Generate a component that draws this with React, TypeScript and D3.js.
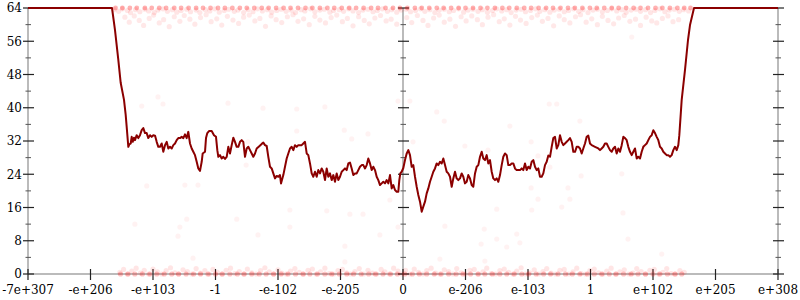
import React from "react";
import * as d3 from "d3";

const xTickValues = [-6, -5, -4, -3, -2, -1, 0, 1, 2, 3, 4, 5, 6];
const xTickLabels = ["-7e+307", "-e+206", "-e+103", "-1", "-e-102", "-e-205", "0", "e-206", "e-103", "1", "e+102", "e+205", "e+308"];
const yMajorTicks = [0, 8, 16, 24, 32, 40, 48, 56, 64];
const yMinorTicks = [4, 12, 20, 28, 36, 44, 52, 60];
const yAxisPositions = [-6, 0, 6];

const linePoints: [number, number][] = [
  [-6,64],[-4.656,64],[-4.608,58.7],[-4.555,51.5],[-4.517,46.0],[-4.464,41.9],[-4.437,38.3],[-4.421,35.4],[-4.395,30.6],[-4.379,31.2],[-4.357,31.4],[-4.341,33.0],[-4.325,31.8],[-4.304,32.8],[-4.288,32.2],[-4.261,33.4],[-4.235,32.7],[-4.208,33.4],[-4.181,34.6],[-4.155,35.1],[-4.128,33.9],[-4.101,33.9],[-4.075,32.7],[-4.048,33.4],[-4.021,33.0],[-3.995,33.4],[-3.968,33.3],[-3.941,31.8],[-3.915,30.6],[-3.888,30.6],[-3.861,31.4],[-3.835,29.4],[-3.808,31.0],[-3.781,31.8],[-3.755,30.2],[-3.728,30.6],[-3.701,30.2],[-3.675,31.0],[-3.648,31.4],[-3.621,32.2],[-3.595,32.7],[-3.568,32.7],[-3.541,33.0],[-3.515,32.7],[-3.488,33.6],[-3.461,32.7],[-3.435,34.2],[-3.408,31.4],[-3.381,30.2],[-3.355,29.4],[-3.328,28.6],[-3.301,27.0],[-3.275,25.4],[-3.248,24.8],[-3.221,27.0],[-3.205,29.0],[-3.168,29.4],[-3.152,32.7],[-3.131,33.9],[-3.104,34.4],[-3.061,34.4],[-3.024,33.4],[-2.992,33.0],[-2.971,29.8],[-2.955,28.2],[-2.928,28.6],[-2.901,27.8],[-2.875,28.2],[-2.848,27.7],[-2.821,28.2],[-2.795,30.6],[-2.768,29.0],[-2.741,31.0],[-2.715,32.8],[-2.688,31.8],[-2.661,30.6],[-2.635,30.6],[-2.608,31.8],[-2.581,32.2],[-2.555,31.8],[-2.528,28.2],[-2.501,30.2],[-2.475,30.6],[-2.448,29.8],[-2.421,29.0],[-2.395,28.2],[-2.368,29.0],[-2.341,30.2],[-2.304,30.7],[-2.261,31.3],[-2.235,31.6],[-2.208,31.0],[-2.181,30.8],[-2.155,28.2],[-2.128,25.8],[-2.101,25.4],[-2.075,24.2],[-2.048,23.0],[-2.021,23.6],[-1.995,23.4],[-1.968,23.8],[-1.952,21.8],[-1.915,23.8],[-1.888,25.8],[-1.861,27.8],[-1.835,29.0],[-1.808,30.2],[-1.781,30.6],[-1.755,29.8],[-1.728,31.0],[-1.701,30.6],[-1.675,31.0],[-1.621,31.0],[-1.595,31.4],[-1.568,31.8],[-1.541,29.0],[-1.515,28.6],[-1.488,26.6],[-1.461,24.2],[-1.435,23.4],[-1.408,24.6],[-1.381,23.4],[-1.355,25.0],[-1.328,24.2],[-1.301,25.4],[-1.275,24.6],[-1.248,22.6],[-1.221,25.4],[-1.195,23.4],[-1.168,24.2],[-1.141,22.6],[-1.115,23.8],[-1.088,22.2],[-1.061,24.2],[-1.035,22.6],[-1.008,23.4],[-0.981,24.6],[-0.955,25.0],[-0.928,25.4],[-0.901,25.0],[-0.875,26.6],[-0.848,26.8],[-0.821,25.4],[-0.795,23.8],[-0.768,24.2],[-0.741,24.2],[-0.715,25.0],[-0.688,25.8],[-0.661,26.2],[-0.635,26.2],[-0.608,25.4],[-0.581,26.2],[-0.555,27.8],[-0.528,26.6],[-0.501,25.0],[-0.475,25.8],[-0.448,25.0],[-0.421,23.4],[-0.395,22.6],[-0.368,21.4],[-0.341,21.8],[-0.315,22.2],[-0.288,21.8],[-0.261,22.6],[-0.235,21.8],[-0.208,23.8],[-0.181,20.6],[-0.155,21.4],[-0.128,20.2],[-0.101,19.8],[-0.075,19.8],[-0.059,22.6],[-0.043,24.2],[-0.021,24.6],[0.005,25.5],[0.032,27.4],[0.059,29.0],[0.085,29.8],[0.112,28.6],[0.139,25.8],[0.165,26.2],[0.192,23.4],[0.219,21.0],[0.245,19.0],[0.272,17.4],[0.299,15.0],[0.325,16.2],[0.352,17.4],[0.379,19.4],[0.405,20.6],[0.432,22.2],[0.459,23.4],[0.485,24.6],[0.512,25.4],[0.539,26.6],[0.565,26.2],[0.592,27.0],[0.619,26.6],[0.645,27.8],[0.672,26.2],[0.699,24.6],[0.725,24.2],[0.752,23.4],[0.779,21.0],[0.805,23.0],[0.832,24.6],[0.859,23.0],[0.885,22.6],[0.912,23.0],[0.939,24.2],[0.965,23.4],[0.992,21.8],[1.019,22.2],[1.045,23.8],[1.072,23.0],[1.099,21.4],[1.125,21.0],[1.152,24.2],[1.179,25.8],[1.205,26.2],[1.232,28.2],[1.259,29.4],[1.285,27.8],[1.312,27.4],[1.339,28.6],[1.365,26.6],[1.392,27.4],[1.419,24.6],[1.445,23.0],[1.472,22.6],[1.499,23.0],[1.525,22.2],[1.552,23.8],[1.579,26.2],[1.605,28.2],[1.632,29.0],[1.659,28.6],[1.685,26.2],[1.712,26.2],[1.739,26.6],[1.765,26.6],[1.792,25.4],[1.819,25.0],[1.872,25.0],[1.899,25.4],[1.925,25.0],[1.952,26.6],[1.979,25.0],[2.005,25.8],[2.032,25.4],[2.059,27.0],[2.085,27.4],[2.112,25.8],[2.139,25.0],[2.165,25.4],[2.192,23.4],[2.219,23.4],[2.245,24.2],[2.272,26.2],[2.299,27.0],[2.325,28.5],[2.352,28.2],[2.379,30.6],[2.405,32.7],[2.432,33.0],[2.459,30.2],[2.485,31.0],[2.512,33.4],[2.539,31.8],[2.565,31.0],[2.592,31.4],[2.619,31.8],[2.645,32.2],[2.672,32.7],[2.699,31.8],[2.725,29.4],[2.752,29.4],[2.779,30.6],[2.805,30.6],[2.832,30.2],[2.859,29.0],[2.885,30.2],[2.912,31.4],[2.939,33.0],[2.965,33.3],[2.992,31.4],[3.019,31.0],[3.072,30.6],[3.125,30.2],[3.152,29.8],[3.179,30.2],[3.205,30.6],[3.232,31.4],[3.259,31.4],[3.285,30.6],[3.312,29.8],[3.339,29.4],[3.365,30.2],[3.392,30.6],[3.419,29.0],[3.445,30.2],[3.472,29.4],[3.499,31.0],[3.525,33.0],[3.552,32.7],[3.579,32.2],[3.605,30.6],[3.632,29.4],[3.659,28.6],[3.685,29.4],[3.712,30.2],[3.739,27.8],[3.765,28.2],[3.792,27.8],[3.819,29.4],[3.845,30.6],[3.872,31.0],[3.899,31.4],[3.925,32.2],[3.952,33.0],[3.979,33.4],[4.005,34.6],[4.032,33.9],[4.059,33.0],[4.085,32.2],[4.112,30.6],[4.139,30.2],[4.165,29.4],[4.192,29.0],[4.219,28.6],[4.245,28.6],[4.272,28.2],[4.299,28.6],[4.325,29.8],[4.352,30.6],[4.379,29.8],[4.405,31.0],[4.421,33.4],[4.443,38.3],[4.459,41.9],[4.512,49.1],[4.560,56.3],[4.592,59.9],[4.656,64],[6,64]
];

const topEdgeX = [-4.6,-4.49,-4.37,-4.26,-4.13,-4.02,-3.9,-3.79,-3.66,-3.55,-3.43,-3.31,-3.2,-3.08,-2.96,-2.85,-2.73,-2.61,-2.5,-2.38,-2.26,-2.15,-2.03,-1.91,-1.8,-1.68,-1.56,-1.45,-1.33,-1.21,-1.1,-0.98,-0.86,-0.75,-0.63,-0.51,-0.4,-0.28,-0.16,-0.05,0.07,0.19,0.3,0.42,0.54,0.65,0.77,0.89,1.0,1.12,1.24,1.35,1.47,1.59,1.7,1.82,1.94,2.05,2.17,2.29,2.4,2.52,2.64,2.75,2.87,2.99,3.1,3.22,3.34,3.45,3.57,3.69,3.8,3.92,4.04,4.15,4.27,4.39,4.5,4.6];
const bottomEdgeX = [-4.52,-4.4,-4.29,-4.17,-4.05,-3.94,-3.82,-3.7,-3.59,-3.47,-3.35,-3.24,-3.12,-3.0,-2.89,-2.77,-2.65,-2.54,-2.42,-2.3,-2.19,-2.07,-1.95,-1.84,-1.72,-1.6,-1.49,-1.37,-1.25,-1.14,-1.02,-0.9,-0.79,-0.67,-0.55,-0.44,-0.32,-0.2,-0.09,0.03,0.15,0.26,0.38,0.5,0.61,0.73,0.85,0.96,1.08,1.2,1.31,1.43,1.55,1.66,1.78,1.9,2.01,2.13,2.25,2.36,2.48,2.6,2.71,2.83,2.95,3.06,3.18,3.3,3.41,3.53,3.65,3.76,3.88,4.0,4.11,4.23,4.35,4.46];

const topBand: [number, number][] = [
  [-4.62,63.6],[-4.55,63.2],[-4.49,63.8],[-4.41,63.4],[-4.36,62.9],[-4.28,63.6],[-4.21,63.1],[-4.13,63.7],[-4.07,63.3],[-3.98,62.9],[-3.92,63.5],[-3.84,63.8],[-3.77,63.2],[-3.69,63.6],[-3.62,63.0],[-3.55,63.4],[-3.46,63.7],[-3.4,63.1],[-3.31,63.5],[-3.25,62.9],[-3.16,63.6],[-3.09,63.3],[-3.01,63.8],[-2.94,63.0],[-2.86,63.4],[-2.79,63.7],[-2.7,63.2],[-2.64,63.5],[-2.55,62.9],[-2.48,63.6],[-2.4,63.1],[-2.33,63.8],[-2.25,63.3],[-2.17,63.6],[-2.1,63.0],[-2.02,63.4],[-1.95,63.7],[-1.87,63.2],[-1.79,63.5],[-1.72,62.9],[-1.63,63.6],[-1.57,63.3],[-1.48,63.8],[-1.41,63.1],[-1.33,63.5],[-1.26,63.7],[-1.17,63.0],[-1.11,63.4],[-1.02,63.6],[-0.95,63.2],[-0.87,63.8],[-0.8,63.3],[-0.71,62.9],[-0.64,63.5],[-0.56,63.7],[-0.48,63.1],[-0.41,63.4],[-0.33,63.8],[-0.25,63.2],[-0.18,63.6],[-0.1,63.0],[-0.03,63.5],[0.05,63.7],[0.12,63.1],[0.2,63.4],[0.28,63.8],[0.35,63.2],[0.43,63.6],[0.51,62.9],[0.58,63.5],[0.66,63.7],[0.74,63.1],[0.81,63.4],[0.89,63.8],[0.97,63.0],[1.04,63.5],[1.12,63.7],[1.2,63.2],[1.27,63.6],[1.35,63.0],[1.43,63.4],[1.5,63.8],[1.58,63.3],[1.66,63.6],[1.73,62.9],[1.81,63.5],[1.89,63.7],[1.96,63.1],[2.04,63.4],[2.12,63.8],[2.19,63.2],[2.27,63.6],[2.35,63.0],[2.42,63.5],[2.5,63.7],[2.58,63.1],[2.65,63.4],[2.73,63.8],[2.81,63.2],[2.88,63.6],[2.96,62.9],[3.04,63.5],[3.11,63.7],[3.19,63.1],[3.27,63.4],[3.34,63.8],[3.42,63.3],[3.5,63.6],[3.57,63.0],[3.65,63.5],[3.73,63.7],[3.8,63.2],[3.88,63.6],[3.96,62.9],[4.03,63.4],[4.11,63.8],[4.19,63.1],[4.26,63.5],[4.34,63.7],[4.42,63.2],[4.49,63.6],[4.57,63.3]
];

const upperBand: [number, number][] = [
  [-4.45,61.8],[-4.38,60.6],[-4.3,62.1],[-4.22,61.0],[-4.15,59.8],[-4.06,61.5],[-3.99,62.3],[-3.9,60.4],[-3.83,61.2],[-3.74,59.5],[-3.66,61.9],[-3.57,60.8],[-3.5,62.2],[-3.41,61.3],[-3.33,60.1],[-3.24,61.7],[-3.15,62.4],[-3.07,60.7],[-2.98,61.4],[-2.9,59.9],[-2.81,62.0],[-2.72,61.1],[-2.63,60.3],[-2.55,61.8],[-2.46,62.3],[-2.37,60.9],[-2.29,61.5],[-2.2,59.6],[-2.11,62.1],[-2.03,61.2],[-1.94,60.5],[-1.85,61.9],[-1.76,62.4],[-1.68,60.8],[-1.59,61.4],[-1.5,60.0],[-1.41,62.0],[-1.33,61.1],[-1.24,60.4],[-1.15,61.7],[-1.06,62.3],[-0.97,60.7],[-0.89,61.5],[-0.8,59.7],[-0.71,61.9],[-0.62,61.0],[-0.54,60.2],[-0.45,61.6],[-0.36,62.2],[-0.27,60.9],[-0.19,61.3],[-0.1,60.1],
  [0.06,61.7],[0.14,60.5],[0.23,62.2],[0.32,61.0],[0.4,59.8],[0.49,61.6],[0.58,62.3],[0.66,60.6],[0.75,61.3],[0.84,59.6],[0.93,61.9],[1.01,60.9],[1.1,62.1],[1.19,61.2],[1.27,60.0],[1.36,61.8],[1.45,62.4],[1.54,60.7],[1.62,61.4],[1.71,59.9],[1.8,62.0],[1.88,61.1],[1.97,60.3],[2.06,61.7],[2.15,62.3],[2.23,60.8],[2.32,61.5],[2.41,59.7],[2.5,62.1],[2.58,61.2],[2.67,60.4],[2.76,61.9],[2.84,62.4],[2.93,60.6],[3.02,61.4],[3.11,60.0],[3.19,62.0],[3.28,61.0],[3.37,60.2],[3.45,61.6],[3.54,62.2],[3.63,60.8],[3.72,61.3],[3.8,59.8],[3.89,61.8],[3.98,60.9],[4.06,60.4],[4.15,61.5],[4.24,62.1],[4.32,60.7],[4.41,61.2]
];

const bottomBand: [number, number][] = [
  [-4.53,0.4],[-4.47,1.1],[-4.41,0],[-4.34,0.7],[-4.27,1.4],[-4.2,0.2],[-4.14,0.9],[-4.07,0],[-4,1.2],[-3.93,0.5],[-3.86,0],[-3.79,0.8],[-3.72,1.5],[-3.65,0.3],[-3.59,0],[-3.52,1.0],[-3.45,0.6],[-3.38,0],[-3.31,1.3],[-3.24,0.2],[-3.17,0.8],[-3.1,0],[-3.04,1.1],[-2.97,0.4],[-2.9,0],[-2.83,0.9],[-2.76,1.4],[-2.69,0.1],[-2.62,0.6],[-2.55,0],[-2.49,1.2],[-2.42,0.3],[-2.35,0],[-2.28,0.8],[-2.21,1.5],[-2.14,0.5],[-2.07,0],[-2.0,1.0],[-1.94,0.2],[-1.87,0],[-1.8,0.7],[-1.73,1.3],[-1.66,0.4],[-1.59,0],[-1.52,0.9],[-1.45,1.2],[-1.39,0],[-1.32,0.5],[-1.25,1.4],[-1.18,0.1],[-1.11,0],[-1.04,0.8],[-0.97,1.1],[-0.9,0.3],[-0.84,0],[-0.77,0.6],[-0.7,1.3],[-0.63,0],[-0.56,0.9],[-0.49,0.2],[-0.42,0],[-0.35,1.1],[-0.29,0.5],[-0.22,0],[-0.15,1.4],[-0.08,0.7],[-0.02,0],
  [0.04,0.9],[0.11,0],[0.18,1.2],[0.25,0.4],[0.32,0],[0.38,0.8],[0.45,1.4],[0.52,0.2],[0.59,0],[0.66,1.0],[0.73,0.6],[0.8,0],[0.86,1.3],[0.93,0.3],[1.0,0],[1.07,0.9],[1.14,1.1],[1.21,0],[1.28,0.5],[1.34,1.4],[1.41,0.1],[1.48,0],[1.55,0.8],[1.62,1.2],[1.69,0.4],[1.76,0],[1.82,0.7],[1.89,1.5],[1.96,0],[2.03,0.3],[2.1,1.0],[2.17,0],[2.24,0.6],[2.3,1.3],[2.37,0.2],[2.44,0],[2.51,0.9],[2.58,1.1],[2.65,0],[2.72,0.5],[2.78,1.4],[2.85,0.1],[2.92,0],[2.99,0.8],[3.06,1.2],[3.13,0.3],[3.2,0],[3.26,0.7],[3.33,1.4],[3.4,0],[3.47,0.5],[3.54,1.0],[3.61,0],[3.68,0.2],[3.74,1.3],[3.81,0.6],[3.88,0],[3.95,0.9],[4.02,1.1],[4.09,0],[4.16,0.4],[4.22,1.3],[4.29,0.1],[4.36,0],[4.43,0.8],[4.5,0.4]
];

const scatterPoints: [number, number][] = [
  [-3.92,42.6],[-4.29,12.0],[-3.57,11.3],[-3.46,13.2],[-3.60,9.1],[-3.36,3.8],[-2.66,13.2],[-2.32,9.4],[-1.81,15.4],[-1.22,15.2],[-1.81,11.3],[-0.93,6.7],[-0.93,2.9],[-0.37,9.4],[-0.85,14.4],[-0.64,14.4],[-0.08,11.3],[0.67,11.5],[1.30,10.8],[1.50,8.4],[1.25,7.2],[0.59,3.6],[1.31,3.1],[1.87,7.5],[1.50,15.6],[1.82,9.6],[2.54,16.1],[3.52,14.7],[3.60,8.4],[4.14,4.8],[1.66,6.5],[-4.18,40.4],[-3.84,40.9],[-2.80,41.1],[-2.24,39.9],[-1.70,39.7],[-1.70,34.4],[-2.48,31.8],[-3.49,21.4],[-4.10,21.2],[-1.25,40.2],[-0.94,34.6],[-0.56,33.7],[-0.82,32.5],[-0.08,41.6],[0.16,31.8],[0.54,39.0],[0.66,36.8],[0.99,30.8],[1.36,29.8],[0.11,41.6],[1.71,35.6],[2.05,31.8],[2.34,40.9],[2.46,40.9],[2.83,36.8],[2.16,28.4],[2.35,25.7],[2.85,23.6],[2.64,20.7],[2.05,20.7],[2.16,18.0],[2.67,18.0],[2.06,15.4],[3.50,24.1],[3.86,30.8],[-2.51,26.2],[-3.28,21.4],[-0.21,17.8],[3.66,57.0]
];

export default function App() {
  const W = 800;
  const H = 300;
  const x = d3.scaleLinear().domain([-6, 6]).range([28, 778]);
  const y = d3.scaleLinear().domain([0, 64]).range([274, 8]);
  const line = d3
    .line<[number, number]>()
    .x((d) => x(d[0]))
    .y((d) => y(d[1]));
  const font = "'DejaVu Serif', serif";
  const axisGray = "#bbbbbb";
  const tickColor = "#222222";

  const dot = (d: [number, number], i: number, key: string, op: number, r = 2.6) => (
    <circle key={key + i} cx={x(d[0])} cy={y(d[1])} r={r} fill="#ff0000" fillOpacity={op} />
  );

  return (
    <svg width={W} height={H} style={{ position: "fixed", left: 0, top: 0, background: "#fff" }}>
      <line x1={x(-6)} x2={x(6)} y1={y(0)} y2={y(0)} stroke={axisGray} strokeWidth={2} />
      {yAxisPositions.map((p) => (
        <line key={"ax" + p} x1={x(p)} x2={x(p)} y1={y(0)} y2={y(64)} stroke={axisGray} strokeWidth={2} />
      ))}
      {yAxisPositions.map((p) =>
        yMajorTicks.map((t) => (
          <line key={"ymj" + p + "_" + t} x1={x(p) - 5} x2={x(p) + 6} y1={y(t)} y2={y(t)} stroke={tickColor} strokeWidth={1.2} />
        ))
      )}
      {yAxisPositions.map((p) =>
        yMinorTicks.map((t) => (
          <line key={"ymn" + p + "_" + t} x1={x(p) - 2.5} x2={x(p) + 3} y1={y(t)} y2={y(t)} stroke="#555" strokeWidth={1} />
        ))
      )}
      {xTickValues.map((t) => (
        <line key={"xt" + t} x1={x(t)} x2={x(t)} y1={y(0) - 5} y2={y(0) + 6} stroke={tickColor} strokeWidth={1.2} />
      ))}
      {yMajorTicks.map((t) => (
        <text key={"yl" + t} x={x(-6) - 6} y={y(t)} dy="0.36em" textAnchor="end" fontFamily={font} fontSize={12} fill="#000">
          {t}
        </text>
      ))}
      {xTickValues.map((t, i) => (
        <text key={"xl" + t} x={x(t)} y={y(0) + 20} textAnchor="middle" fontFamily={font} fontSize={12} fill="#000">
          {xTickLabels[i]}
        </text>
      ))}
      <g>
        {bottomEdgeX.map((v, i) => dot([v, 0], i, "be", 0.24, 2.6))}
        {topEdgeX.map((v, i) => dot([v, 64], i, "te", 0.3, 2.4))}
        {bottomBand.map((d, i) => dot(d, i, "b", 0.1))}
        {topBand.map((d, i) => dot(d, i, "t", 0.1))}
        {upperBand.map((d, i) => dot(d, i, "u", 0.09))}
        {scatterPoints.map((d, i) => dot(d, i, "s", 0.05))}
      </g>
      <path d={line(linePoints) || ""} fill="none" stroke="#8b0000" strokeWidth={2} strokeLinejoin="round" />
    </svg>
  );
}
